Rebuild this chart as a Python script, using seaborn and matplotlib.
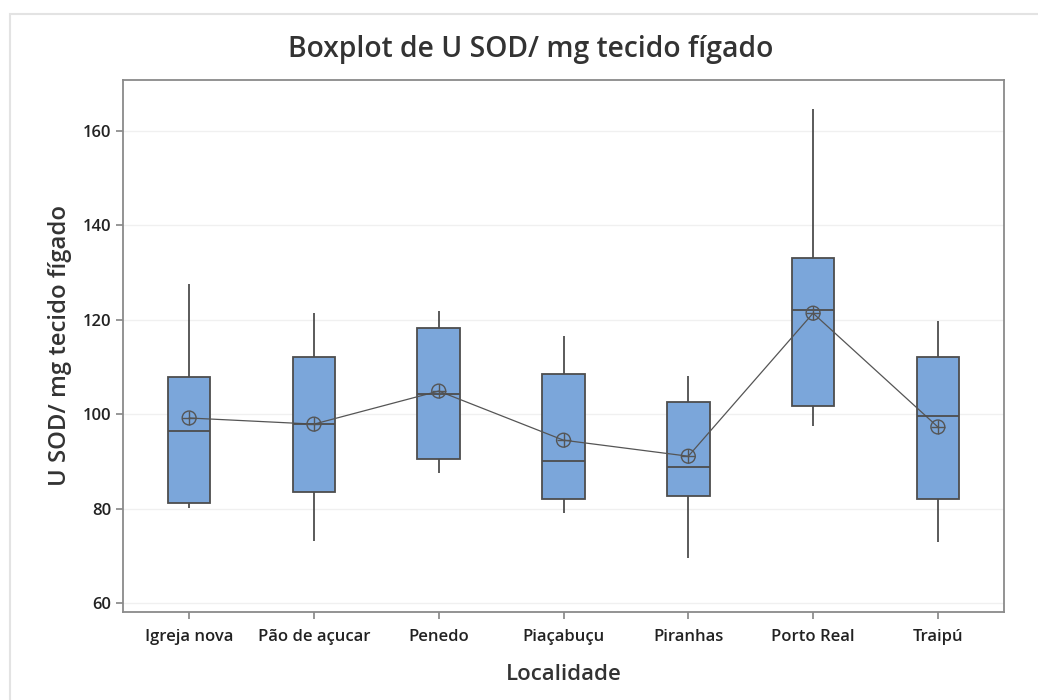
import pandas as pd
import seaborn as sns
import matplotlib.pyplot as plt
from matplotlib.patches import Rectangle

# five-number summaries (low whisker, Q1, median, Q3, high whisker)
localidades = ['Igreja nova', 'Pão de açucar', 'Penedo', 'Piaçabuçu',
               'Piranhas', 'Porto Real', 'Traipú']
whisk_low = [80.1, 73.1, 87.5, 79.1, 69.5, 97.5, 72.9]
q1 = [81.2, 83.5, 90.5, 82.0, 82.7, 101.7, 82.0]
median = [96.4, 97.9, 104.3, 90.1, 88.8, 122.1, 99.6]
q3 = [107.9, 112.1, 118.3, 108.5, 102.6, 133.1, 112.1]
whisk_high = [127.6, 121.4, 121.9, 116.6, 108.1, 164.7, 119.7]
means = [99.2, 97.9, 104.9, 94.5, 91.1, 121.4, 97.3]

rows = []
for i, loc in enumerate(localidades):
    for v in (whisk_low[i], q1[i], median[i], q3[i], whisk_high[i]):
        rows.append({'Localidade': loc, 'valor': v})
df = pd.DataFrame(rows)
df_mean = pd.DataFrame({'Localidade': localidades, 'media': means})

sns.set_theme(style="white")
plt.rcParams['font.family'] = ['Open Sans', 'DejaVu Sans']

edge = '#4d4d4d'
fig = plt.figure(figsize=(10.38, 7), dpi=100)
ax = fig.add_axes([123 / 1038, 1 - 612 / 700, (1004 - 123) / 1038, (612 - 80) / 700])

# light frame round the graph
fig.patches.append(Rectangle((10 / 1038, -0.1), 1.2, 1 - 14 / 700 + 0.1,
                             transform=fig.transFigure, fill=False,
                             edgecolor='#e3e3e3', linewidth=1.5))

ax.grid(True, color='#f0f0f0', linewidth=1)
ax.set_axisbelow(True)

sns.boxplot(data=df, x='Localidade', y='valor', order=localidades, ax=ax,
            width=0.34, whis=(0, 100), color='#7BA6DA', saturation=1,
            linecolor=edge, linewidth=1.3, showcaps=False, fliersize=0)

# mean connect line + mean symbols
sns.lineplot(data=df_mean, x='Localidade', y='media', ax=ax, color='#555555',
             linewidth=0.9, sort=False)
sns.scatterplot(data=df_mean, x='Localidade', y='media', ax=ax, marker='o',
                s=100, facecolor='none', edgecolor='#555555', linewidth=1, zorder=5)
sns.scatterplot(data=df_mean, x='Localidade', y='media', ax=ax, marker='+',
                s=100, color='#555555', linewidth=1, zorder=5)

ax.set_xlim(-0.53, 6.53)
ax.set_ylim(58.1, 170.8)
ax.set_yticks([60, 80, 100, 120, 140, 160])

for s in ax.spines.values():
    s.set_color('#8a8a8a')
    s.set_linewidth(1.3)
ax.tick_params(axis='both', direction='out', length=5, color='#8a8a8a',
               labelsize=12, labelcolor='#222222', bottom=True, left=True)
ax.tick_params(axis='x', pad=7)
for lab in ax.get_xticklabels() + ax.get_yticklabels():
    lab.set_fontweight('semibold')

ax.set_xlabel('Localidade', fontsize=16, fontweight='semibold', color='#333333', labelpad=14)
ax.set_ylabel('U SOD/ mg tecido fígado', fontsize=17.2, fontweight='semibold',
              color='#333333', labelpad=8)
fig.text(531 / 1038, 1 - 50 / 700, 'Boxplot de U SOD/ mg tecido fígado',
         ha='center', va='center', fontsize=20.3, fontweight='semibold', color='#333333')

fig.savefig('out.png', dpi=100, facecolor='white')
